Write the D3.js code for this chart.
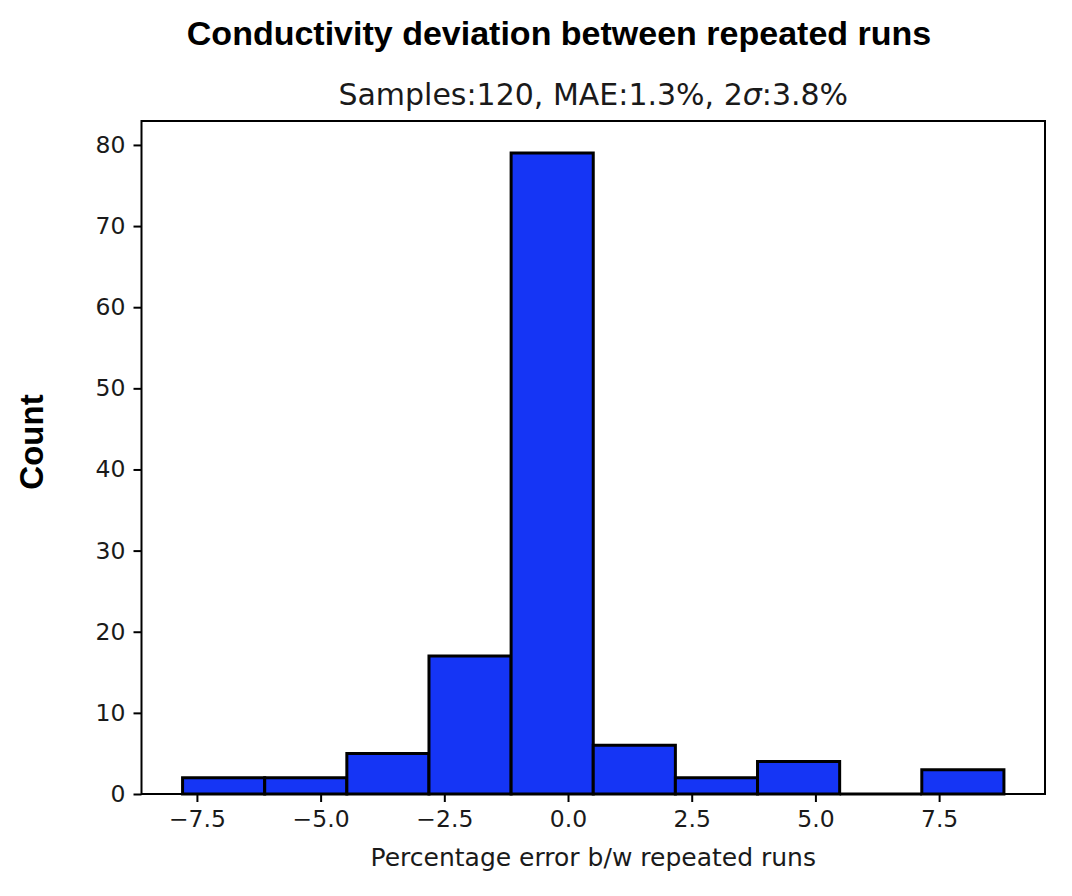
<!DOCTYPE html>
<html>
<head>
<meta charset="utf-8">
<script src="https://cdn.jsdelivr.net/npm/d3@7"></script>
<style>
  html, body { margin: 0; padding: 0; background: #fff; }
  svg { display: block; }
</style>
</head>
<body>
<svg id="chart" width="1072" height="896"></svg>
<script>
// ---- data ----
const binEdges = [-7.79, -6.13, -4.47, -2.81, -1.15, 0.51, 2.17, 3.83, 5.49, 7.15, 8.81];
const counts   = [2, 2, 5, 17, 79, 6, 2, 4, 0, 3];
const xTicks = [-7.5, -5.0, -2.5, 0.0, 2.5, 5.0, 7.5];
const yTicks = [0, 10, 20, 30, 40, 50, 60, 70, 80];
const titleText = "Conductivity deviation between repeated runs";
const xLabelText = "Percentage error b/w repeated runs";
const yLabelText = "Count";

// ---- layout ----
const svg = d3.select("#chart");
const L = 141.5, R = 1045, T = 121, B = 794;

const xMin = d3.min(binEdges), xMax = d3.max(binEdges);
const pad = (xMax - xMin) * 0.05;
const x = d3.scaleLinear().domain([xMin - pad, xMax + pad]).range([L, R]);
const y = d3.scaleLinear().domain([0, d3.max(counts) * 1.05]).range([B, T]);

const bins = counts.map((c, i) => ({x0: binEdges[i], x1: binEdges[i + 1], c}));

// frame (drawn first so bar edges sit on top)
svg.append("rect").attr("x", L).attr("y", T).attr("width", R - L).attr("height", B - T)
  .attr("fill", "none").attr("stroke", "#000").attr("stroke-width", 2);

// bars as closed paths (so empty bins still show their stroke)
svg.append("g").selectAll("path").data(bins).join("path")
  .attr("d", d => {
    const p = d3.path();
    p.moveTo(x(d.x0), y(0));
    p.lineTo(x(d.x0), y(d.c));
    p.lineTo(x(d.x1), y(d.c));
    p.lineTo(x(d.x1), y(0));
    p.closePath();
    return p.toString();
  })
  .attr("fill", "#1535f5")
  .attr("stroke", "#000")
  .attr("stroke-width", 3)
  .attr("stroke-linejoin", "miter");

// axes
const tickFont = "'DejaVu Sans', sans-serif";
const xAxis = svg.append("g").attr("transform", `translate(0,${B})`)
  .call(d3.axisBottom(x).tickValues(xTicks).tickFormat(d3.format(".1f")).tickSize(8).tickPadding(8).tickSizeOuter(0));
const yAxis = svg.append("g").attr("transform", `translate(${L},0)`)
  .call(d3.axisLeft(y).tickValues(yTicks).tickFormat(d3.format("d")).tickSize(8).tickPadding(8).tickSizeOuter(0));

[xAxis, yAxis].forEach(g => {
  g.select(".domain").remove();
  g.selectAll(".tick line").attr("stroke", "#000").attr("stroke-width", 2);
  g.selectAll(".tick text").attr("fill", "#1a1a1a")
    .style("font-family", tickFont).style("font-size", "23.5px");
});
xAxis.selectAll(".tick text").text(d => d3.format(".1f")(d).replace("-", "\u2212"));

// title
svg.append("text").attr("x", 559).attr("y", 45).attr("text-anchor", "middle")
  .style("font-family", "'Liberation Sans', Arial, sans-serif").style("font-weight", "bold")
  .style("font-size", "34px").attr("fill", "#000").text(titleText);

// subtitle
const sub = svg.append("text").attr("x", (L + R) / 2).attr("y", 105).attr("text-anchor", "middle")
  .style("font-family", tickFont).style("font-size", "30px").attr("fill", "#1a1a1a");
sub.append("tspan").text("Samples:120, MAE:1.3%, 2");
sub.append("tspan").style("font-style", "italic").text("\u03c3");
sub.append("tspan").text(":3.8%");

// x label
svg.append("text").attr("x", (L + R) / 2).attr("y", 866).attr("text-anchor", "middle")
  .style("font-family", tickFont).style("font-size", "25px").attr("fill", "#1a1a1a").text(xLabelText);

// y label
svg.append("text").attr("transform", "translate(43,442) rotate(-90)").attr("text-anchor", "middle")
  .style("font-family", "'Liberation Sans', Arial, sans-serif").style("font-weight", "bold")
  .style("font-size", "33px").attr("fill", "#000").text(yLabelText);
</script>
</body>
</html>
